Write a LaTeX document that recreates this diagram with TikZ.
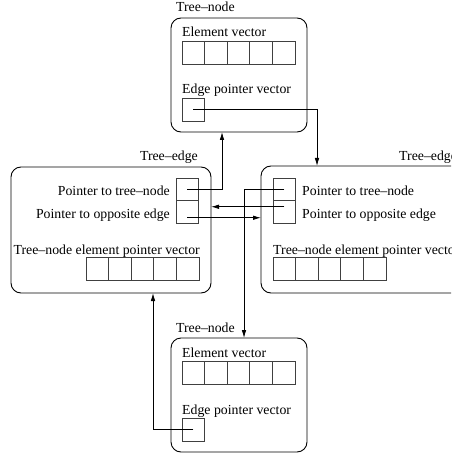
\documentclass[tikz,border=0pt]{standalone}
\usepackage{fontspec}
\setmainfont{Liberation Serif}
\usetikzlibrary{arrows.meta}

\begin{document}
\begin{tikzpicture}[x=1pt,y=-1pt,
  box/.style={draw, rounded corners=10pt, line width=0.9pt, inner sep=0pt,
              outer sep=0pt, anchor=north west},
  cell/.style={draw=black!75, line width=0.9pt, minimum width=22.6pt,
               minimum height=23pt, inner sep=0pt, outer sep=0pt},
  lbl/.style={inner sep=0pt, font=\fontsize{13.8}{16}\selectfont},
  ptr/.style={line width=0.8pt, -{Latex[length=8pt,width=4.5pt]}}]
\useasboundingbox (0,0) rectangle (451,454);
\clip (0,0) rectangle (451,454);

% ---------- upper tree-node ----------
\node[box, minimum width=136pt, minimum height=114pt] (tnode) at (171,18) {};
\node[lbl, anchor=base west] (tnodelbl) at (176,12) {Tree--node};
\node[lbl, anchor=base west] (televec) at (182,37) {Element vector};
\node[cell, anchor=north west] (te1) at (182,41) {};
\node[cell, anchor=west] (te2) at (te1.east) {};
\node[cell, anchor=west] (te3) at (te2.east) {};
\node[cell, anchor=west] (te4) at (te3.east) {};
\node[cell, anchor=west] (te5) at (te4.east) {};
\node[lbl, anchor=base west] (tepvec) at (182,94) {Edge pointer vector};
\node[cell, anchor=north west] (tcell) at (182,98) {};

% ---------- left tree-edge ----------
\node[box, minimum width=200pt, minimum height=126pt] (ledge) at (11,167) {};
\node[lbl, anchor=base east] (ledgelbl) at (198,161) {Tree--edge};
\node[cell, anchor=north west, minimum height=22.5pt] (ltn) at (176,178) {};
\node[cell, anchor=north, minimum height=22.5pt] (lop) at (ltn.south) {};
\node[lbl, anchor=base east] (ltntxt) at (170,195) {Pointer to tree--node};
\node[lbl, anchor=base east] (loptxt) at (170,218) {Pointer to opposite edge};
\node[lbl, anchor=base east] (lvectxt) at (200,254) {Tree--node element pointer vector};
\node[cell, anchor=north east] (lv5) at (199,257) {};
\node[cell, anchor=east] (lv4) at (lv5.west) {};
\node[cell, anchor=east] (lv3) at (lv4.west) {};
\node[cell, anchor=east] (lv2) at (lv3.west) {};
\node[cell, anchor=east] (lv1) at (lv2.west) {};

% ---------- right tree-edge ----------
\node[box, minimum width=205pt, minimum height=127pt] (redge) at (261,166) {};
\node[lbl, anchor=base west] (redgelbl) at (399,161) {Tree--edge};
\node[cell, anchor=north west, minimum height=22.5pt] (rtn) at (273,178) {};
\node[cell, anchor=north, minimum height=22.5pt] (rop) at (rtn.south) {};
\node[lbl, anchor=base west] (rtntxt) at (302,195) {Pointer to tree--node};
\node[lbl, anchor=base west] (roptxt) at (302,218) {Pointer to opposite edge};
\node[lbl, anchor=base west] (rvectxt) at (273,254) {Tree--node element pointer vector};
\node[cell, anchor=north west] (rv1) at (273,257) {};
\node[cell, anchor=west] (rv2) at (rv1.east) {};
\node[cell, anchor=west] (rv3) at (rv2.east) {};
\node[cell, anchor=west] (rv4) at (rv3.east) {};
\node[cell, anchor=west] (rv5) at (rv4.east) {};

% ---------- lower tree-node ----------
\node[box, minimum width=136pt, minimum height=114pt] (bnode) at (171,338) {};
\node[lbl, anchor=base west] (bnodelbl) at (176,332) {Tree--node};
\node[lbl, anchor=base west] (belvec) at (182,357) {Element vector};
\node[cell, anchor=north west] (be1) at (182,361) {};
\node[cell, anchor=west] (be2) at (be1.east) {};
\node[cell, anchor=west] (be3) at (be2.east) {};
\node[cell, anchor=west] (be4) at (be3.east) {};
\node[cell, anchor=west] (be5) at (be4.east) {};
\node[lbl, anchor=base west] (bepvec) at (182,414) {Edge pointer vector};
\node[cell, anchor=north west] (bcell) at (182,418) {};

% ---------- pointers ----------
% upper node -> right edge
\draw[ptr] (tcell.center) -| ([xshift=56pt]redge.north west);
% left edge -> upper node
\draw[ptr] (ltn.center) -| (tnode.south -| 222,0);
% right edge -> lower node
\draw[ptr] (rtn.center) -| (bnode.north -| 244,0);
% opposite-edge pointers
\coordinate (lopout) at ([yshift=-6pt]lop.center);
\draw[ptr] (lopout) -- (lopout -| redge.west);
\coordinate (ropout) at ([yshift=5pt]rop.center);
\draw[ptr] (ropout) -- (ropout -| ledge.east);
% lower node -> left edge
\draw[ptr] (bcell.center) -| (ledge.south -| 153,0);
\end{tikzpicture}
\end{document}
